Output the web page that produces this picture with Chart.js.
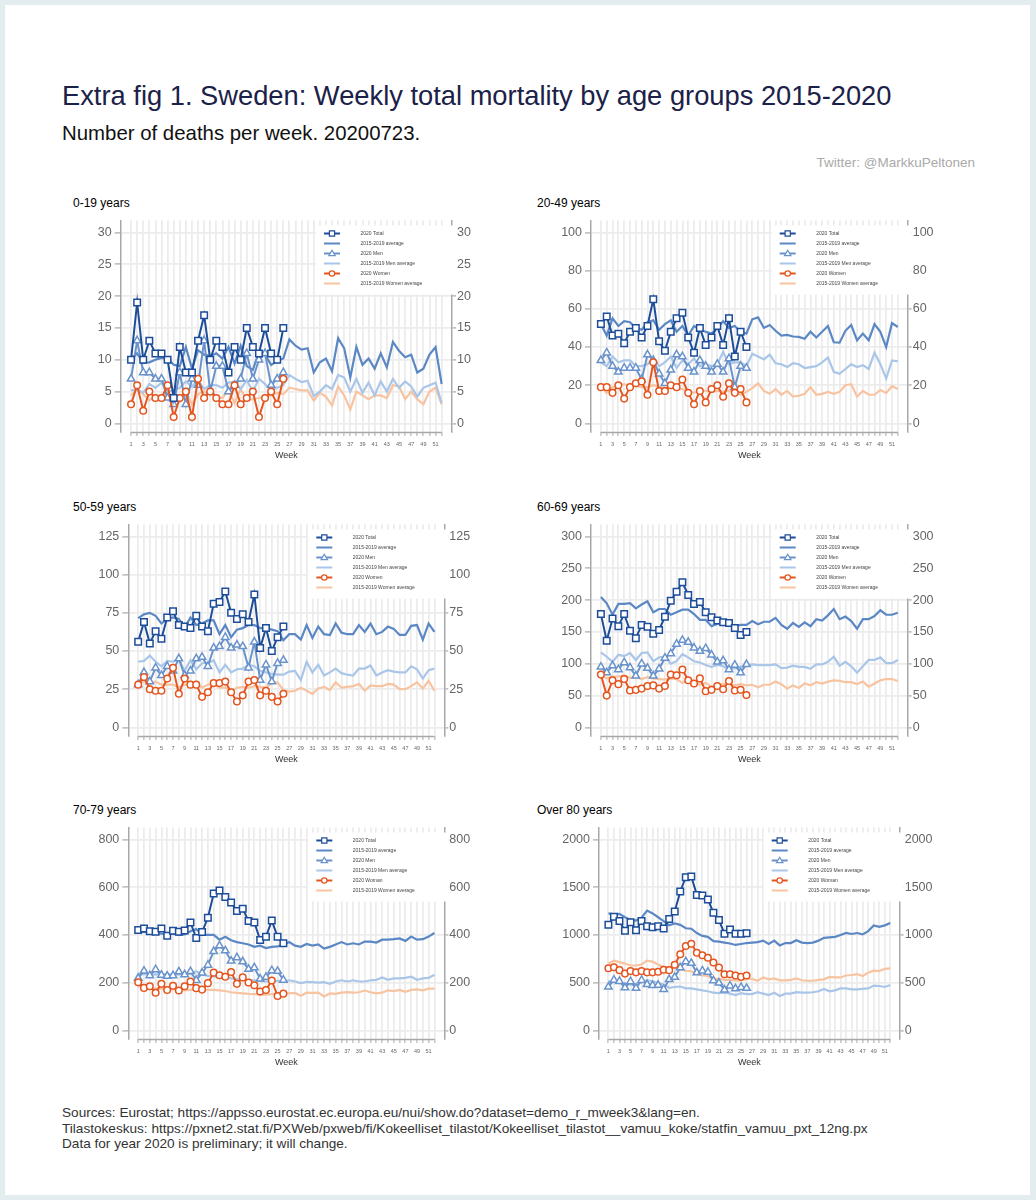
<!DOCTYPE html>
<html>
<head>
<meta charset="utf-8">
<script src="https://cdn.jsdelivr.net/npm/chart.js@4.4.0/dist/chart.umd.min.js"></script>
<style>
  body { margin: 0; width: 1036px; height: 1200px; position: relative; overflow: hidden;
         background: #e3ecee; font-family: "Liberation Sans", Arial, Helvetica, sans-serif; }
  #sheet { position: absolute; left: 5px; top: 5px; width: 1025px; height: 1190px; background: #fff; }
  .abs { position: absolute; white-space: nowrap; }
  #title { left: 62px; top: 80px; font-size: 27.3px; line-height: 32px; color: #1b2148; }
  #subtitle { left: 62px; top: 121px; font-size: 20.4px; line-height: 24px; color: #111; }
  #credit { right: 61px; top: 155px; font-size: 13.5px; line-height: 16px; color: #aaa; }
  #footer { left: 62px; top: 1105px; font-size: 13.6px; line-height: 15.5px; color: #333; }
  .ptitle { font-size: 12px; line-height: 14px; color: #000; }
  canvas { position: absolute; }
</style>
</head>
<body>
<div id="sheet"></div>
<div class="abs" id="title">Extra fig 1. Sweden: Weekly total mortality by age groups 2015-2020</div>
<div class="abs" id="subtitle">Number of deaths per week. 20200723.</div>
<div class="abs" id="credit">Twitter: @MarkkuPeltonen</div>

<div class="abs ptitle" style="left:73px; top:196px">0-19 years</div>
<div class="abs ptitle" style="left:537px; top:196px">20-49 years</div>
<div class="abs ptitle" style="left:73px; top:500px">50-59 years</div>
<div class="abs ptitle" style="left:537px; top:500px">60-69 years</div>
<div class="abs ptitle" style="left:73px; top:803px">70-79 years</div>
<div class="abs ptitle" style="left:537px; top:803px">Over 80 years</div>

<canvas id="c1" width="430" height="255" style="left:60px; top:210px"></canvas>
<canvas id="c2" width="430" height="255" style="left:530px; top:210px"></canvas>
<canvas id="c3" width="430" height="255" style="left:60px; top:514px"></canvas>
<canvas id="c4" width="430" height="255" style="left:530px; top:514px"></canvas>
<canvas id="c5" width="430" height="255" style="left:60px; top:817px"></canvas>
<canvas id="c6" width="430" height="255" style="left:530px; top:817px"></canvas>

<div class="abs" id="footer">Sources: Eurostat; https://appsso.eurostat.ec.europa.eu/nui/show.do?dataset=demo_r_mweek3&amp;lang=en.<br>Tilastokeskus: https://pxnet2.stat.fi/PXWeb/pxweb/fi/Kokeelliset_tilastot/Kokeelliset_tilastot__vamuu_koke/statfin_vamuu_pxt_12ng.px<br>Data for year 2020 is preliminary; it will change.</div>

<script>
const weeks = [1,2,3,4,5,6,7,8,9,10,11,12,13,14,15,16,17,18,19,20,21,22,23,24,25,26,
               27,28,29,30,31,32,33,34,35,36,37,38,39,40,41,42,43,44,45,46,47,48,49,50,51,52];

// 0-19 years
const total019 = [10,19,10,13,11,11,10,4,12,8,8,13,17,10,13,12,8,12,10,15,12,11,15,11,10,15];
const men019 = [7,13,8,8,7,7,4,3,8,3,7,6,13,5,9,9,5,6,7,11,7,10,11,6,7,8];
const women019 = [3,6,2,5,4,4,6,1,4,5,1,7,4,5,4,3,3,6,3,4,5,1,4,5,3,7];
const avg019 = [10.2,11.0,9.5,9.6,10.0,10.3,10.2,9.2,9.0,12.0,8.6,11.5,10.8,10.6,11.0,10.2,12.0,9.4,12.2,9.0,8.4,11.2,10.8,9.2,9.8,10.2,
                13.2,12.2,11.6,11.8,8.0,9.6,10.2,8.2,13.4,11.8,7.2,12.0,9.2,10.2,8.6,11.0,8.8,12.8,11.4,10.4,10.8,8.0,8.6,10.8,12.0,6.2];
const menAvg019 = [5.2,5.4,4.8,6.2,5.6,6.4,5.0,5.2,5.6,6.6,5.8,6.8,5.4,6.0,6.0,5.6,6.4,6.6,5.4,6.8,5.0,7.0,6.2,5.2,5.6,6.0,
                   7.6,7.0,6.5,6.7,4.3,5.0,6.0,5.4,7.6,7.2,5.0,7.0,4.8,6.4,4.4,6.6,5.0,7.0,5.6,6.6,5.8,4.2,5.6,6.0,6.4,3.2];
const womenAvg019 = [4.4,5.4,4.6,3.6,4.4,4.0,4.8,4.2,3.4,5.0,3.0,4.6,5.0,4.8,4.2,4.0,5.2,3.2,5.4,3.6,3.8,4.0,4.2,4.4,4.8,4.6,
                     5.6,5.4,5.2,5.2,3.6,4.8,4.2,2.8,5.8,4.4,2.2,5.0,4.4,3.8,4.4,4.4,4.0,6.0,5.8,3.8,5.0,3.8,3.0,5.0,5.6,3.0];
const yTicks019 = [0,5,10,15,20,25,30];

// 20-49 years
const total2049 = [52,56,46,47,42,48,50,45,51,65,43,38,48,55,58,45,37,50,41,45,51,41,55,35,48,40];
const men2049 = [33,37,30,27,29,29,29,23,36,33,26,21,28,36,35,29,27,33,30,27,31,27,34,19,30,29];
const women2049 = [19,19,16,20,13,19,21,22,15,32,17,17,20,19,23,16,10,17,11,18,20,14,21,16,18,11];
const avg2049 = [52,46,55,51,53.5,53,50,49,53,54,49,52,54,48,51,46,51,49,48,47,50,53.5,50,51,48,47,
                 54.5,55.5,50,51.5,48.5,46,46.3,45.5,45.3,44.3,48,45,48,51,42.5,42.3,48.5,51.5,43.5,47,43.5,52,48,40,52.5,50.5];
const menAvg2049 = [32,30,35,32,33,33,30,30,31,34,30,32,35,29,33,31,34,30,31,30,31,37.5,31,32,32,30,
                    36.5,35,33.5,36,31.5,31,29.5,31.5,31,29,29.5,30,32,34.5,27,26,28.5,31,29.5,30.5,28.5,37,31,23.5,33,32.5];
const womenAvg2049 = [19,16,19,20,20.5,20,19.5,19,19,20,19,18.5,19,18,18,17,16,17,17,16.5,17,16.5,17,16.5,15,16.5,
                      18.5,21,17,15.5,18,15,17,14,14.5,15.5,19,15,15.5,16.5,15.5,16.5,20,20.5,14,17,15,15,17.5,16,19.5,18];
const yTicks2049 = [0,20,40,60,80,100];

// 50-59 years
const total5059 = [56,69,55,63,58,72,76,67,66,65,73,66,63,81,82,89,75,71,74,69,87,52,65,50,59,66];
const men5059 = [28,36,30,39,34,40,37,45,34,37,45,46,40,52,53,59,52,54,53,39,56,31,41,30,42,44];
const women5059 = [28,33,25,24,24,32,39,22,32,28,28,20,23,29,29,30,23,17,21,30,31,21,24,20,17,22];
const avg5059 = [71.5,74,75,73,68,71,72,71,65,72,67,68,70,70,61,67,59,64,65,67,67,65,65,64,63,57,
                 61,61,57.5,67,58.5,66,61,60.5,68,62,61,61,67,62.5,68,61,62.5,66,64.5,60.5,60.5,66.5,67,57.5,68,62.5];
const menAvg5059 = [43,43.5,47,43,40,43.5,43,45,37,44,38,42,42,44,36,41,36,38,38.5,41,40,37,36,35,34.5,34.5,
                    36.5,37,31,43,36,41,34,36,38.5,35.5,34.5,34,38.5,38.5,40.5,34,36,37.5,36.5,36,36,40,38,32,37.5,38.5];
const womenAvg5059 = [28.5,30,28,30,28,28,28,26,28,28,29,26,28,28,26,26,24,26,26.5,26,27,26.5,26,29,29.5,24.5,
                      23.5,24,26,24,22,25.5,26.5,24.5,29.5,26,26.5,27,28.5,24,27.5,27,27,28.5,28,25,25,27,29.5,25.5,30.5,24];
const yTicks5059 = [0,25,50,75,100,125];

// 60-69 years
const total6069 = [178,136,171,159,178,152,140,161,158,147,153,174,199,213,228,208,194,197,181,173,168,165,164,156,145,150];
const men6069 = [95,86,97,91,102,94,81,100,93,81,92,109,116,131,137,134,125,120,124,114,103,105,91,98,86,99];
const women6069 = [83,50,74,68,76,58,59,61,65,66,61,65,83,82,91,74,69,77,57,59,65,60,73,58,59,51];
const avg6069 = [205,195,177,194,194,195,187,193,198,181,186,186,177,181,185,185,178,169,169,159,163,164,163,159,161,161,
                 167,162,166,166,172,161,155,164,158,165,159,170,168,176,186,170,174,167,155,170,170,175,184,177,177,180];
const menAvg6069 = [118,111,103,114,112,117,106,117,118,104,110,111,100,104,115,110,104,102,98,95,98,96,91,93,95,97,
                    99,98,98,98,99,93,94,97,95,95,92,99,99,103,111,97,103,96,86,96,106,106,110,101,101,106];
const womenAvg6069 = [81,77,80,80,82,78,79,76,79,77,76,75,77,76,70,75,72,67,70,64,66,68,70,66,68,66,
                      67,63,67,67,72,68,61,66,62,69,66,71,69,72,74,73,71,71,68,72,64,69,74,76,76,73];
const yTicks6069 = [0,50,100,150,200,250,300];

// 70-79 years
const total7079 = [421,427,415,413,427,397,417,413,419,452,387,412,472,573,586,559,536,500,510,458,452,379,392,460,392,365];
const men7079 = [219,249,230,255,232,228,230,246,234,247,210,241,274,331,355,334,291,305,288,257,263,216,223,251,248,211];
const women7079 = [202,178,185,158,195,169,187,167,185,205,177,171,198,242,231,225,245,195,222,201,189,163,169,209,144,154];
const avg7079 = [415,413,410,408,405,403,405,400,402,415,425,400,400,400,380,392,378,370,365,360,350,355,345,350,352,358,
                 370,355,350,362,355,360,343,350,360,370,360,365,360,372,372,368,380,380,382,385,375,393,380,382,393,408];
const menAvg7079 = [235,237,232,235,235,237,233,235,237,237,248,233,228,228,220,222,218,215,213,211,210,207,205,205,208,207,
                    210,205,198,203,202,200,202,195,205,210,205,210,205,205,210,212,222,212,218,218,220,225,212,218,220,233];
const womenAvg7079 = [185,180,178,175,175,172,172,170,168,170,172,168,170,170,168,165,160,157,155,153,152,150,150,152,155,156,
                      155,157,145,158,157,158,142,155,153,158,160,158,160,167,160,155,158,168,165,170,162,170,172,168,175,175];
const yTicks7079 = [0,200,400,600,800];

// Over 80 years
const total80 = [1106,1189,1146,1043,1133,1050,1146,1090,1080,1090,1066,1166,1246,1455,1605,1611,1419,1412,1372,1233,1156,1013,1056,1013,1013,1017];
const men80 = [455,528,515,448,512,442,525,482,472,475,431,535,558,658,721,704,605,625,611,522,498,425,468,438,452,442];
const women80 = [651,661,631,595,621,608,621,608,608,615,635,631,688,797,884,907,814,787,761,711,658,588,588,575,561,575];
const avg80 = [1225,1215,1220,1185,1160,1150,1180,1255,1225,1185,1145,1100,1120,1105,1070,1065,1020,990,980,935,930,920,910,895,905,915,
               920,925,940,905,940,890,915,915,945,920,915,920,940,970,975,980,1000,1020,1010,1020,1005,1040,1100,1085,1100,1125];
const menAvg80 = [520,505,500,490,480,480,505,525,515,495,480,445,455,460,440,440,430,420,410,395,390,395,385,370,390,380,
                  380,400,385,370,395,360,385,385,400,395,395,400,410,435,410,420,440,440,430,430,435,440,470,465,455,475];
const womenAvg80 = [700,730,715,700,680,680,690,730,720,690,665,660,665,640,625,620,590,575,570,540,540,530,530,525,525,540,
                    540,520,555,535,545,525,525,530,545,525,520,520,530,535,560,555,555,575,580,590,570,605,625,620,645,650];
const yTicks80 = [0,500,1000,1500,2000];

const colTotal = "#1d4d99";
const colAvg = "#5b88c4";
const colMen = "#6a93cb";
const colMenAvg = "#a9c6e8";
const colWomen = "#e4551f";
const colWomenAvg = "#f7c3a0";
const gridCol = "#ececec";
const axisCol = "#a8a8a8";

Chart.defaults.font.family = "'Liberation Sans', Arial, Helvetica, sans-serif";

function pts(values) {
    return values.map((v, i) => ({ x: weeks[i], y: v }));
}

function marked(label, values, color, style, radius) {
    return {
        label: label, data: pts(values), borderColor: color, borderWidth: 2,
        pointStyle: style, pointRadius: radius, pointBorderColor: color,
        pointBackgroundColor: "#fff", pointBorderWidth: 1.5, tension: 0
    };
}

function plain(label, values, color) {
    return { label: label, data: pts(values), borderColor: color, borderWidth: 2.2, pointRadius: 0, tension: 0 };
}

// legend rows: dataset index, marker
const legendOrder = [[0, "rect"], [3, null], [2, "triangle"], [4, null], [1, "circle"], [5, null]];

const framePlugin = {
    id: "frame",
    afterDraw(chart) {
        const ctx = chart.ctx;
        const a = chart.chartArea;
        const x = chart.scales.x;
        ctx.save();
        ctx.strokeStyle = axisCol;
        ctx.lineWidth = 1.5;
        ctx.beginPath();
        ctx.moveTo(x.getPixelForValue(1), a.bottom + 0.5);
        ctx.lineTo(x.getPixelForValue(52), a.bottom + 0.5);
        ctx.stroke();

        const mx = a.right - 120;
        ctx.fillStyle = "#fff";
        ctx.fillRect(mx - 16, a.top + 5, a.right + 4 - (mx - 16), 69);
        ctx.font = "5px 'Liberation Sans', Arial, sans-serif";
        ctx.textBaseline = "middle";
        legendOrder.forEach(([idx, marker], row) => {
            const ds = chart.data.datasets[idx];
            const y = a.top + 13 + row * 10;
            ctx.strokeStyle = ds.borderColor;
            ctx.lineWidth = 2;
            ctx.beginPath();
            ctx.moveTo(mx - 8, y);
            ctx.lineTo(mx + 8, y);
            ctx.stroke();
            if (marker) {
                ctx.fillStyle = "#fff";
                ctx.lineWidth = 1.2;
                ctx.beginPath();
                if (marker === "rect") ctx.rect(mx - 2.6, y - 2.6, 5.2, 5.2);
                if (marker === "triangle") { ctx.moveTo(mx, y - 3.2); ctx.lineTo(mx + 3.2, y + 2.2); ctx.lineTo(mx - 3.2, y + 2.2); ctx.closePath(); }
                if (marker === "circle") ctx.arc(mx, y, 2.7, 0, Math.PI * 2);
                ctx.fill();
                ctx.stroke();
            }
            ctx.fillStyle = "#444";
            ctx.fillText(ds.label, mx + 28.5, y);
        });
        ctx.restore();
    }
};

function yScale(ticks, side, width) {
    const top = ticks[ticks.length - 1];
    const ppu = 200.5 / top;
    return {
        position: side, min: -9 / ppu, max: top + 12.5 / ppu,
        afterBuildTicks: s => { s.ticks = ticks.map(v => ({ value: v })); },
        afterFit: s => { s.width = width; },
        grid: {
            drawOnChartArea: side === "left", color: gridCol, lineWidth: 1.8,
            tickLength: side === "left" ? 6 : 4, tickColor: axisCol, tickWidth: 1.2
        },
        border: { display: true, color: axisCol, width: 1.5 },
        ticks: { font: { size: 12.5 }, color: "#666", padding: side === "left" ? 3 : 1, callback: v => String(v) }
    };
}

function drawPanel(id, ticks, total, men, women, avg, menAvg, womenAvg, womenLabel, leftW, rightW) {
    new Chart(document.getElementById(id), {
        type: "line",
        data: {
            datasets: [
                marked("2020 Total", total, colTotal, "rect", 4.6),
                marked(womenLabel, women, colWomen, "circle", 3.3),
                marked("2020 Men", men, colMen, "triangle", 4.3),
                plain("2015-2019 average", avg, colAvg),
                plain("2015-2019 Men average", menAvg, colMenAvg),
                plain("2015-2019 Women average", womenAvg, colWomenAvg)
            ]
        },
        options: {
            responsive: false,
            animation: false,
            events: [],
            layout: { padding: 0 },
            plugins: { legend: { display: false }, tooltip: { enabled: false } },
            scales: {
                x: {
                    type: "linear", min: -0.7, max: 53.7,
                    afterBuildTicks: s => { s.ticks = weeks.map(v => ({ value: v })); },
                    afterFit: s => { s.height = 33; },
                    grid: { color: gridCol, lineWidth: 1.8, tickLength: 4, tickColor: axisCol, tickWidth: 1 },
                    border: { display: false },
                    ticks: {
                        autoSkip: false, maxRotation: 0, padding: 5, font: { size: 5.5 }, color: "#666",
                        callback: v => (v % 2 === 1 ? String(v) : "")
                    },
                    title: { display: true, text: "Week", font: { size: 9 }, color: "#333", padding: { top: 0, bottom: 4 } }
                },
                y: yScale(ticks, "left", leftW),
                y2: yScale(ticks, "right", rightW)
            }
        },
        plugins: [framePlugin]
    });
}

drawPanel("c1", yTicks019, total019, men019, women019, avg019, menAvg019, womenAvg019, "2020 Women", 60.7, 38);
drawPanel("c2", yTicks2049, total2049, men2049, women2049, avg2049, menAvg2049, womenAvg2049, "2020 Women", 61, 52.3);
drawPanel("c3", yTicks5059, total5059, men5059, women5059, avg5059, menAvg5059, womenAvg5059, "2020 Women", 68.3, 45.7);
drawPanel("c4", yTicks6069, total6069, men6069, women6069, avg6069, menAvg6069, womenAvg6069, "2020 Women", 61, 52.3);
drawPanel("c5", yTicks7079, total7079, men7079, women7079, avg7079, menAvg7079, womenAvg7079, "2020 Woman", 68.3, 45.7);
drawPanel("c6", yTicks80, total80, men80, women80, avg80, menAvg80, womenAvg80, "2020 Woman", 69, 60.3);
</script>
</body>
</html>
